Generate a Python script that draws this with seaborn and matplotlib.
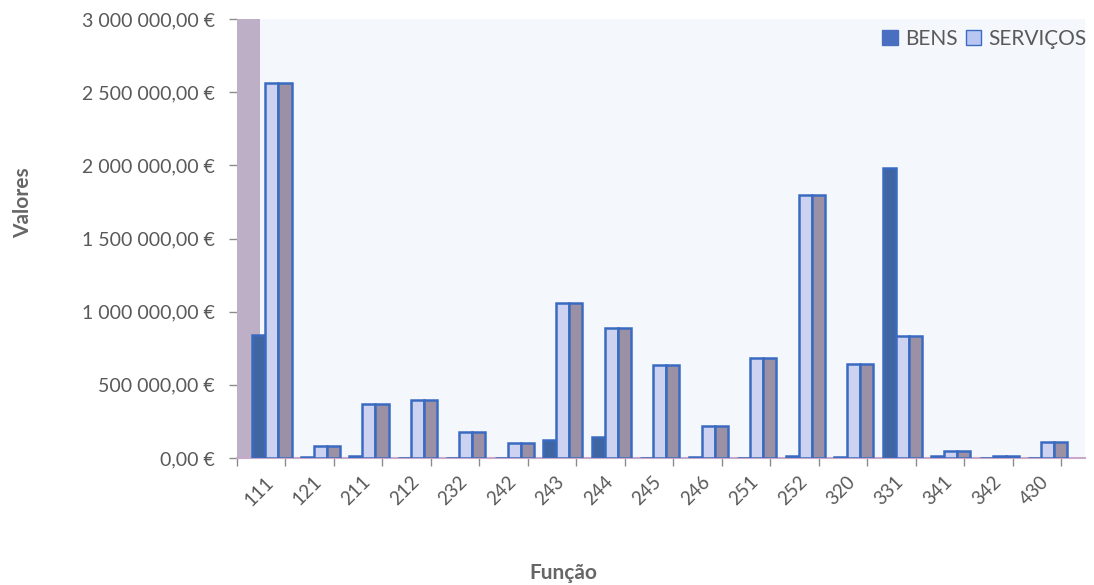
import numpy as np
import pandas as pd
import matplotlib
matplotlib.use("Agg")
import matplotlib.pyplot as plt
from matplotlib.ticker import FuncFormatter, FixedLocator
from matplotlib.patches import Patch
import seaborn as sns

# ---- data ----
categorias = ["111", "121", "211", "212", "232", "242", "243", "244", "245",
              "246", "251", "252", "320", "331", "341", "342", "430"]
bens = [840000, 5000, 15000, 3000, 3000, 3000, 123000, 144000, 3000,
        10000, 3000, 15000, 5000, 1980000, 15000, 3000, 3000]
servicos = [2560000, 85000, 367000, 398000, 178000, 100000, 1060000, 888000, 635000,
            219000, 683000, 1797000, 642000, 834000, 48000, 12000, 108000]
y_ticks = [0, 500000, 1000000, 1500000, 2000000, 2500000, 3000000]

series_names = ["BENS", "SERVIÇOS", "_lado"]

df = pd.DataFrame({
    "Função": categorias * 3,
    "Valores": bens + servicos + servicos,
    "Série": [series_names[0]] * len(categorias)
             + [series_names[1]] * len(categorias)
             + [series_names[2]] * len(categorias),
})

c_bens = "#2f62b2"
c_serv = "#c6cef5"
c_side = "#9c8ca8"
c_edge = "#3a6bc1"
c_wall = "#bcafc6"
c_text = "#595959"

sns.set_theme(style="white")
plt.rcParams["font.family"] = ["Lato", "DejaVu Sans"]

fig = plt.figure(figsize=(10.94, 5.85), dpi=100)
ax = fig.add_axes([237 / 1094, 1 - 458 / 585, (1085 - 237) / 1094, (458 - 19) / 585])
ax.set_facecolor("#f4f8fd")

sns.barplot(data=df, x="Função", y="Valores", hue="Série", order=categorias,
            hue_order=series_names, palette=[c_bens, c_serv, c_side],
            width=0.81, gap=0, edgecolor=c_edge, linewidth=1.8,
            legend=False, ax=ax, zorder=3)

# left wall of the 3D chart
xl = -0.72
ax.axvspan(xl, -0.25, color=c_wall, zorder=1, lw=0)
ax.set_xlim(xl, 16.77)
ax.set_ylim(0, 3000000)

# y axis
ax.set_yticks(y_ticks)
ax.yaxis.set_major_formatter(FuncFormatter(
    lambda v, p: f"{v:,.2f}".replace(",", " ").replace(".", ",") + " €"))
ax.tick_params(axis="y", which="major", length=6, width=1, color="#8c8c8c",
               labelsize=14, labelcolor=c_text, pad=10, left=True)

# x axis: boundary ticks + rotated labels
n = len(categorias)
ax.xaxis.set_major_locator(FixedLocator([xl + k for k in range(n + 1)]))
ax.xaxis.set_major_formatter(FuncFormatter(lambda v, p: ""))
ax.xaxis.set_minor_locator(FixedLocator([i - 0.15 for i in range(n)]))
ax.set_xticklabels(categorias, minor=True, rotation=45, ha="right",
                   rotation_mode="anchor", fontsize=13.5, color=c_text)
ax.tick_params(axis="x", which="major", length=6, width=1, color="#8c8c8c",
               bottom=True)
ax.tick_params(axis="x", which="minor", length=0, pad=11)

for s in ["top", "right"]:
    ax.spines[s].set_visible(False)
ax.spines["left"].set_visible(False)
ax.spines["bottom"].set_color("#c9a9c9")
ax.spines["bottom"].set_linewidth(1.5)

ax.set_ylabel("Valores", fontsize=15, fontweight="bold", color="#666666")
ax.yaxis.set_label_coords((33 - 237) / 848, (458 - 203) / 439)
ax.set_xlabel("Função", fontsize=15, fontweight="bold", color="#666666")
ax.xaxis.set_label_coords((563 - 237) / 848, (458 - 563) / 439)

handles = [Patch(facecolor="#4a6fc0", edgecolor="#4a6fc0", label="BENS"),
           Patch(facecolor="#b9c6f2", edgecolor=c_edge, label="SERVIÇOS")]
fig.legend(handles=handles, loc="upper right", bbox_to_anchor=(1.005, 0.972),
           ncol=2, frameon=False, fontsize=15, handlelength=0.75, handleheight=0.75,
           handletextpad=0.35, columnspacing=0.4, labelcolor=c_text,
           borderaxespad=0.2)

fig.savefig("out.png", dpi=100)
